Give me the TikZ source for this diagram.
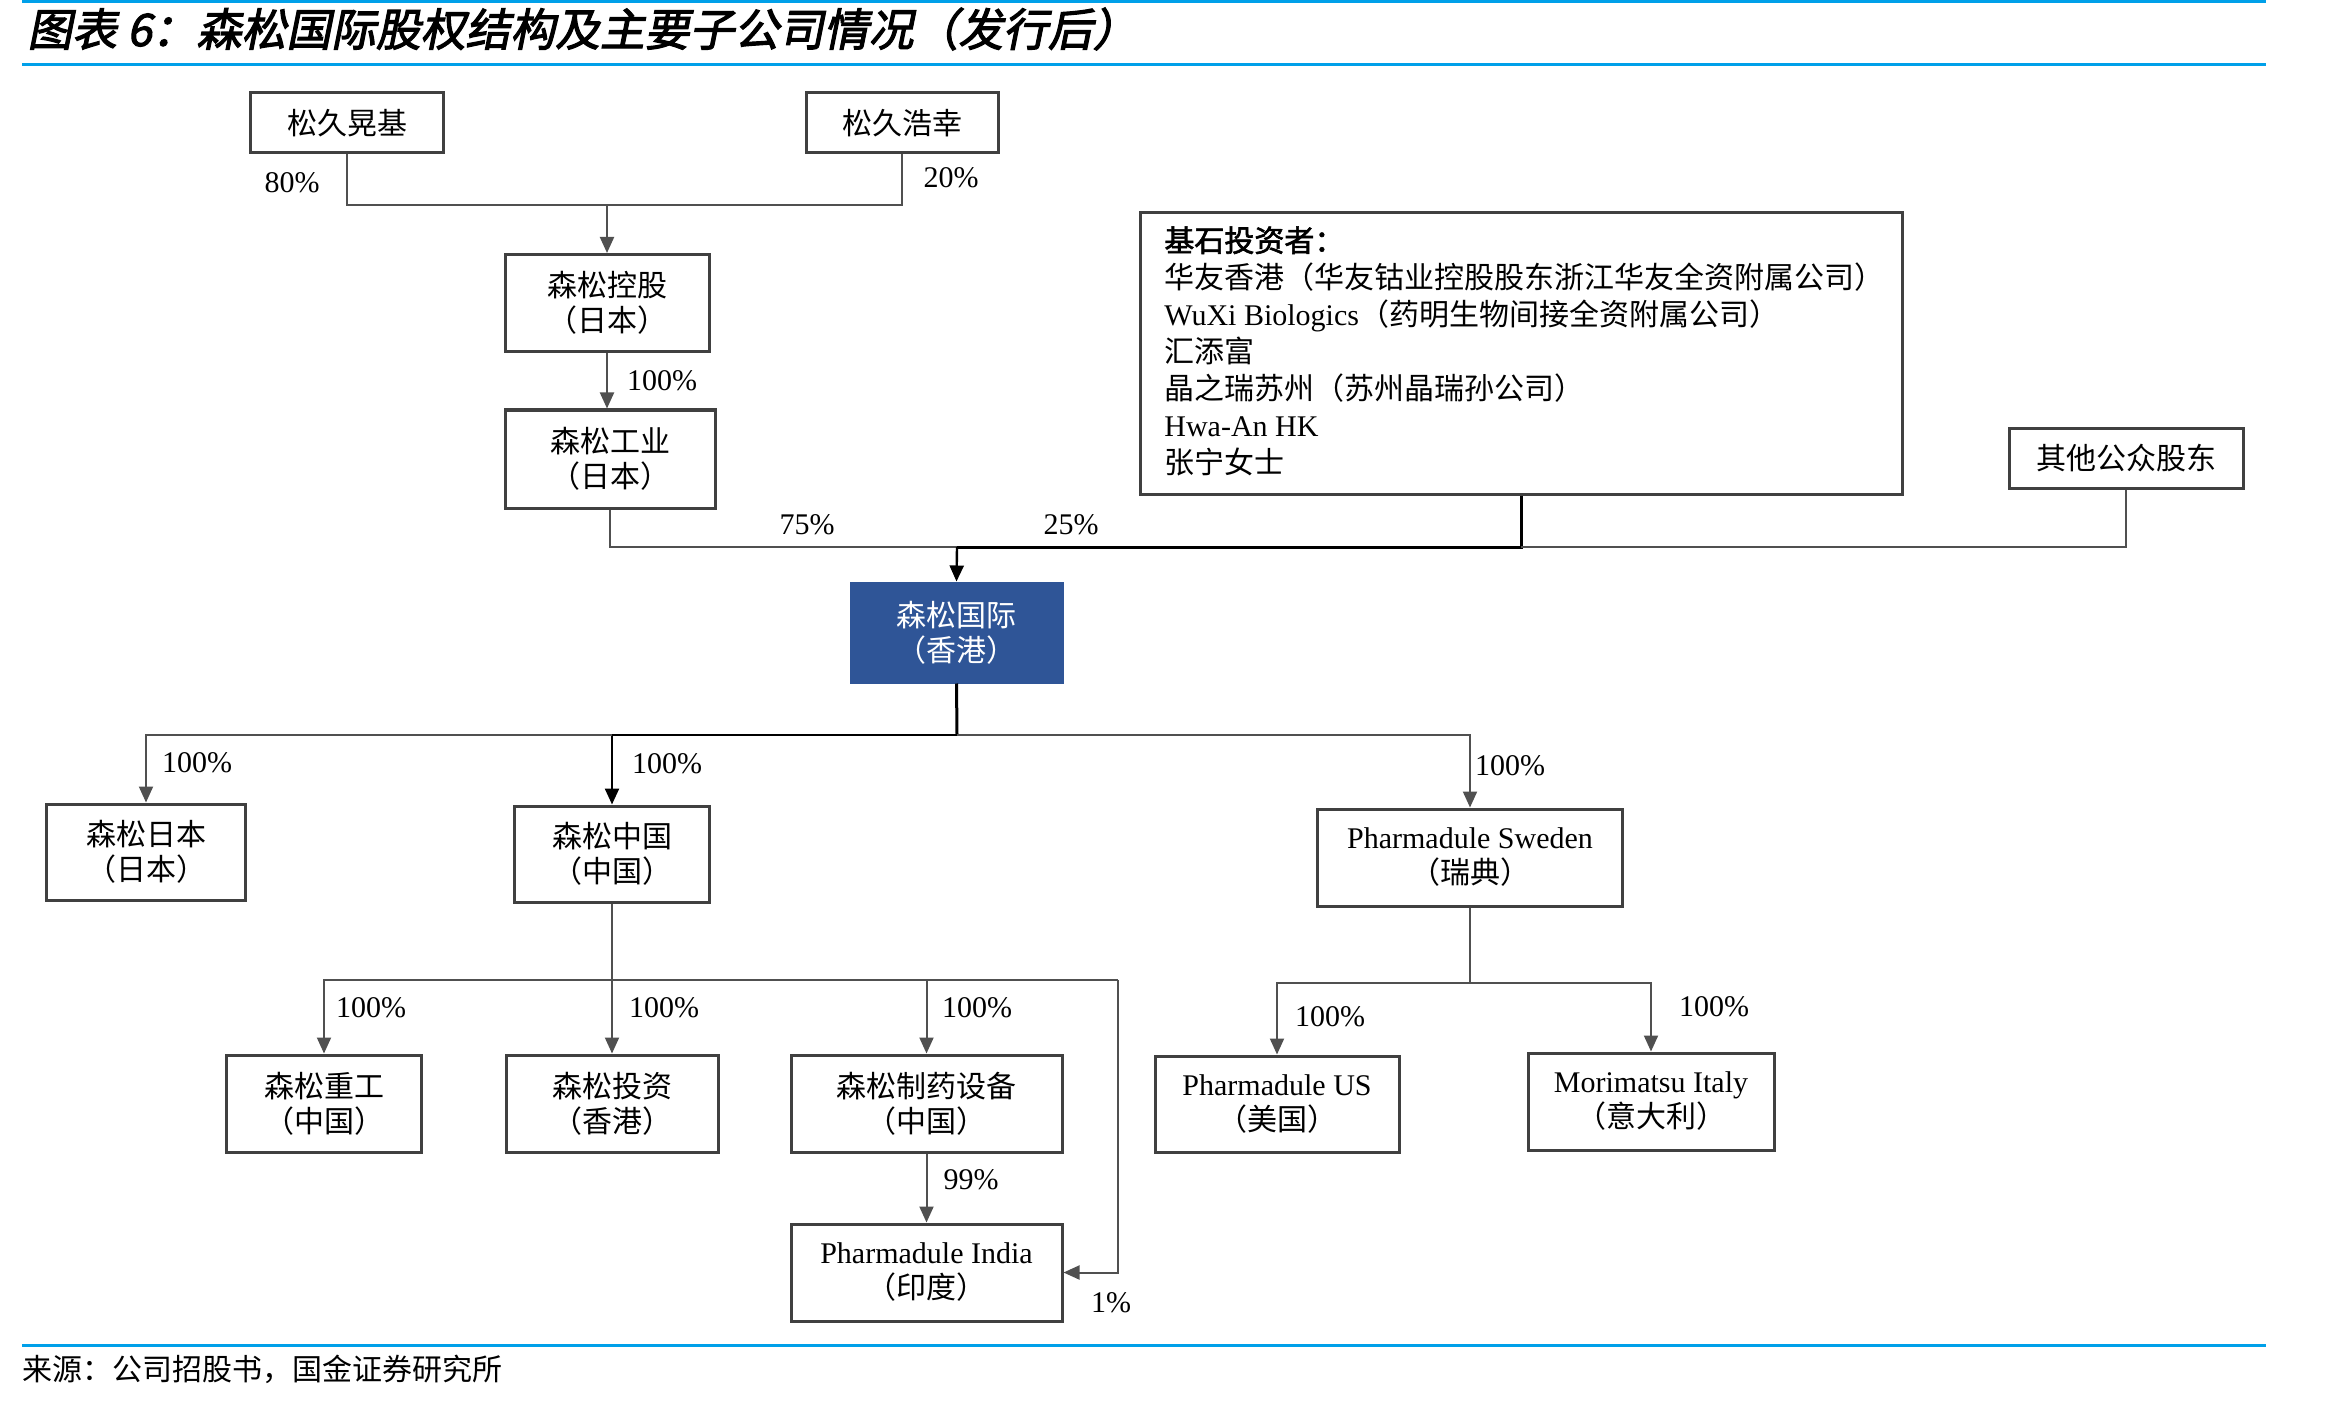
\documentclass[tikz,border=0pt]{standalone}
\usepackage{fontspec}
\setmainfont{Liberation Serif}
\newfontfamily\cjk{Noto Sans CJK SC}
\newfontfamily\cjkb{Noto Sans CJK SC}[FakeBold=2]
\newfontfamily\titlef{Noto Sans CJK SC}[FakeBold=2.5,FakeSlant=0.2]
\newfontfamily\lat{Liberation Serif}
\usetikzlibrary{arrows.meta}
\definecolor{lineblue}{RGB}{0,160,233}
\definecolor{boxblue}{RGB}{47,85,151}
\definecolor{bord}{RGB}{64,64,64}
\definecolor{conc}{RGB}{80,80,80}
\begin{document}
\begin{tikzpicture}[x=0.5pt,y=-0.5pt,
 box/.style={draw=bord,line width=1.5pt,fill=white,inner sep=0pt,align=center,
   font=\fontsize{15pt}{17.5pt}\selectfont\cjk,text=black},
 bluebox/.style={box,fill=boxblue,draw=boxblue,text=white},
 conn/.style={draw=conc,line width=1pt},
 darkconn/.style={draw=black,line width=1.5pt},
 arr/.style={conn,-{Triangle[length=8pt,width=7pt]}},
 darkarr/.style={draw=black,line width=1.2pt,-{Triangle[length=8pt,width=7pt]}},
 pct/.style={font=\fontsize{15pt}{18pt}\selectfont\lat,inner sep=0pt,text=black},
 blueline/.style={draw=lineblue,line width=1.5pt}]
\useasboundingbox (0,0) rectangle (2349,1401);

% header / footer rules
\draw[blueline] (22,1.5) -- (2266,1.5);
\draw[blueline] (22,65) -- (2266,65);
\draw[blueline] (22,1345) -- (2266,1345);
\node[anchor=west,inner sep=0pt,font=\fontsize{22.4pt}{25pt}\selectfont\titlef] (title) at (27,29)
  {图表 6：森松国际股权结构及主要子公司情况（发行后）};
\node[anchor=west,inner sep=0pt,font=\fontsize{15pt}{18pt}\selectfont\cjk] (source) at (22,1369)
  {来源：公司招股书，国金证券研究所};

% top shareholders
\node[box,minimum width=96.5pt,minimum height=30pt] (a1) at (347,123) {松久晃基};
\node[box,minimum width=96pt,minimum height=30pt] (a2) at (902,123) {松久浩幸};
\node[box,minimum width=102pt,minimum height=48.5pt] (hold) at (607,303) {森松控股\\（日本）};
\node[box,minimum width=105pt,minimum height=49pt] (ind) at (610,459) {森松工业\\（日本）};
\node[box,minimum width=381pt,minimum height=140.5pt] (cor) at (1521,353.5) {};
\node[anchor=north west,inner sep=0pt,align=left,font=\fontsize{15pt}{18.5pt}\selectfont\cjk] (cortext) at (1164,226)
  {{\cjkb 基石投资者：}\\
   华友香港（华友钴业控股股东浙江华友全资附属公司）\\
   {\lat WuXi Biologics}（药明生物间接全资附属公司）\\
   汇添富\\
   晶之瑞苏州（苏州晶瑞孙公司）\\
   {\lat Hwa-An HK}\\
   张宁女士};
\node[box,minimum width=117pt,minimum height=30pt] (oth) at (2126,458) {其他公众股东};

% issuer
\node[bluebox,minimum width=105.5pt,minimum height=49.5pt] (hk) at (956.5,632.5) {森松国际\\（香港）};

% subsidiaries
\node[box,minimum width=99.5pt,minimum height=48pt] (jp) at (146,852) {森松日本\\（日本）};
\node[box,minimum width=97.5pt,minimum height=48pt] (cn) at (612,854) {森松中国\\（中国）};
\node[box,minimum width=152.5pt,minimum height=48.5pt] (sw) at (1470,857.5) {{\lat Pharmadule Sweden}\\（瑞典）};
\node[box,minimum width=97.5pt,minimum height=48.5pt] (hv) at (324,1103.5) {森松重工\\（中国）};
\node[box,minimum width=106pt,minimum height=48.5pt] (inv) at (612,1103.5) {森松投资\\（香港）};
\node[box,minimum width=135.5pt,minimum height=48.5pt] (ph) at (926.5,1103.5) {森松制药设备\\（中国）};
\node[box,minimum width=135.5pt,minimum height=48.5pt] (pin) at (926.5,1272.5) {{\lat Pharmadule India}\\（印度）};
\node[box,minimum width=122pt,minimum height=48pt] (us) at (1277,1104) {{\lat Pharmadule US}\\（美国）};
\node[box,minimum width=123pt,minimum height=48.5pt] (it) at (1651,1101.5) {{\lat Morimatsu Italy}\\（意大利）};

% junction points
\coordinate (j1) at (607,205);
\coordinate (j2) at (957,547);
\coordinate (j3) at (957,735);
\coordinate (j4) at (612,980);
\coordinate (j5) at (1118,980);
\coordinate (j6) at (1470,983);

% connectors
\draw[conn] (a1.south) |- (j1);
\draw[conn] (a2.south) |- (j1);
\draw[arr] (j1) -- (hold.north);
\draw[arr] (hold.south) -- (hold.south |- ind.north);
\draw[conn] (ind.south) |- (j2);
\draw[darkconn] (cor.south) |- (j2);
\draw[conn] (oth.south) |- (cor.south |- j2);
\draw[darkarr] (j2) -- (hk.north);

\draw[darkconn] (hk.south) -- (j3);
\draw[darkarr] (j3) -| (cn.north);
\draw[arr] (cn.north |- j3) -| (jp.north);
\draw[arr] (j3) -| (sw.north);

\draw[conn] (cn.south) -- (j4);
\draw[arr] (j4) -| (hv.north);
\draw[arr] (j4) -- (inv.north);
\draw[arr] (j4) -| (ph.north);
\draw[conn] (j4) -- (j5);
\draw[arr] (j5) |- (pin.east);
\draw[arr] (ph.south) -- (pin.north);

\draw[conn] (sw.south) -- (j6);
\draw[arr] (j6) -| (us.north);
\draw[arr] (j6) -| (it.north);

% percentages
\node[pct] (p80) at (292,183) {80\%};
\node[pct] (p20) at (951,178) {20\%};
\node[pct] (p100a) at (662,381) {100\%};
\node[pct] (p75) at (807,525) {75\%};
\node[pct] (p25) at (1071,525) {25\%};
\node[pct] (p100b) at (197,763) {100\%};
\node[pct] (p100c) at (667,764) {100\%};
\node[pct] (p100d) at (1510,766) {100\%};
\node[pct] (p100e) at (371,1008) {100\%};
\node[pct] (p100f) at (664,1008) {100\%};
\node[pct] (p100g) at (977,1008) {100\%};
\node[pct] (p99) at (971,1180) {99\%};
\node[pct] (p1) at (1111,1303) {1\%};
\node[pct] (p100h) at (1330,1017) {100\%};
\node[pct] (p100i) at (1714,1007) {100\%};
\end{tikzpicture}
\end{document}
